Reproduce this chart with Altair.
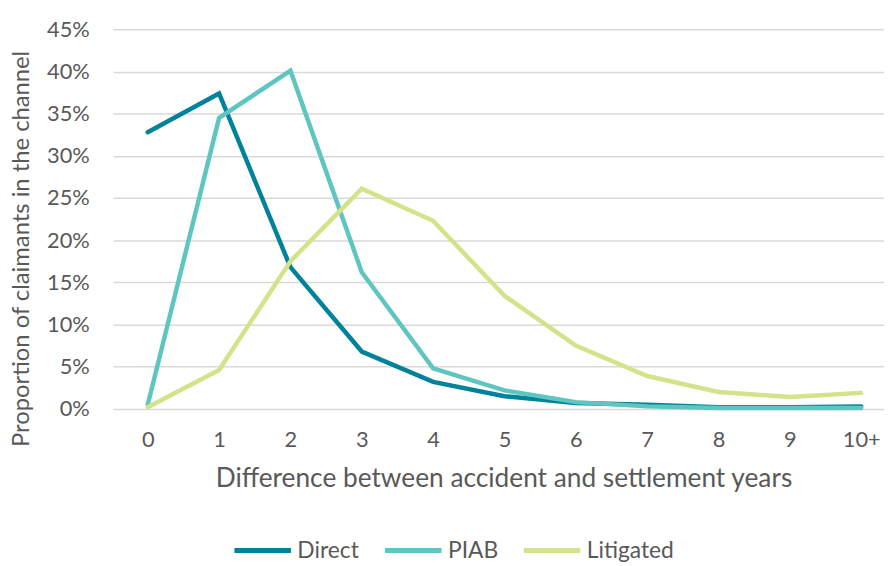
import altair as alt
import pandas as pd

years = ["0", "1", "2", "3", "4", "5", "6", "7", "8", "9", "10+"]
direct = [32.8, 37.4, 16.8, 6.8, 3.2, 1.5, 0.7, 0.5, 0.2, 0.2, 0.3]
piab = [0.5, 34.5, 40.1, 16.2, 4.8, 2.2, 0.8, 0.3, 0.1, 0.1, 0.1]
litigated = [0.2, 4.6, 17.5, 26.1, 22.3, 13.4, 7.5, 3.9, 2.0, 1.4, 1.9]

series = ["Direct", "PIAB", "Litigated"]
colors = ["#00829B", "#5EC5C0", "#D4E38A"]

rows = []
for name, vals in zip(series, [direct, piab, litigated]):
    for i, (yr, v) in enumerate(zip(years, vals)):
        rows.append({"idx": i, "year": yr, "value": v / 100, "series": name})
df = pd.DataFrame(rows)

FONT = "Lato"
GREY = "#595959"
W = 778
step = 72.0
lo = -35.0 / step
hi = (W - 35.0) / step
label_expr = "datum.value == 10 ? '10+' : datum.value"

chart = alt.Chart(df).mark_line(strokeWidth=4.5, strokeCap="round").encode(
    x=alt.X("idx:Q",
            scale=alt.Scale(domain=[lo, hi], nice=False, zero=False),
            axis=alt.Axis(title="Difference between accident and settlement years",
                          values=list(range(len(years))), labelExpr=label_expr,
                          labelAngle=0, ticks=False, domain=False, grid=False,
                          labelFontSize=22, titleFontSize=26.5, labelPadding=21,
                          titlePadding=15, labelColor=GREY, titleColor=GREY,
                          labelFont=FONT, titleFont=FONT, titleFontWeight="normal",
                          labelFlush=False, labelOverlap=False,
                          titleX=394, titleAnchor="middle")),
    y=alt.Y("value:Q",
            scale=alt.Scale(domain=[0, 0.45], nice=False),
            axis=alt.Axis(title="Proportion of claimants in the channel", format=".0%",
                          values=[0, 0.05, 0.1, 0.15, 0.2, 0.25, 0.3, 0.35, 0.4, 0.45],
                          ticks=False, domain=False, labelFontSize=22, titleFontSize=24,
                          labelPadding=24, labelColor=GREY, titleColor=GREY,
                          labelFont=FONT, titleFont=FONT, titleFontWeight="normal",
                          gridColor="#d9d9d9", gridWidth=1.5,
                          titleX=-92, titleY=221, titleBaseline="middle",
                          titleAnchor="middle", titleAngle=270)),
    color=alt.Color("series:N", sort=series,
                    scale=alt.Scale(domain=series, range=colors),
                    legend=alt.Legend(title=None, orient="none", direction="horizontal",
                                      legendX=120, legendY=495,
                                      symbolType="stroke", symbolSize=3249,
                                      symbolStrokeWidth=5, labelFontSize=23,
                                      labelFont=FONT, labelColor=GREY,
                                      columnPadding=15, labelOffset=4)),
    order="idx:Q",
).properties(
    width=W, height=383,
    padding={"left": 106, "top": 19, "right": 0, "bottom": 156},
    autosize=alt.AutoSizeParams(type="none"),
).configure_view(stroke=None)

chart.save("out.html", embed_options={"renderer": "svg", "actions": False})
